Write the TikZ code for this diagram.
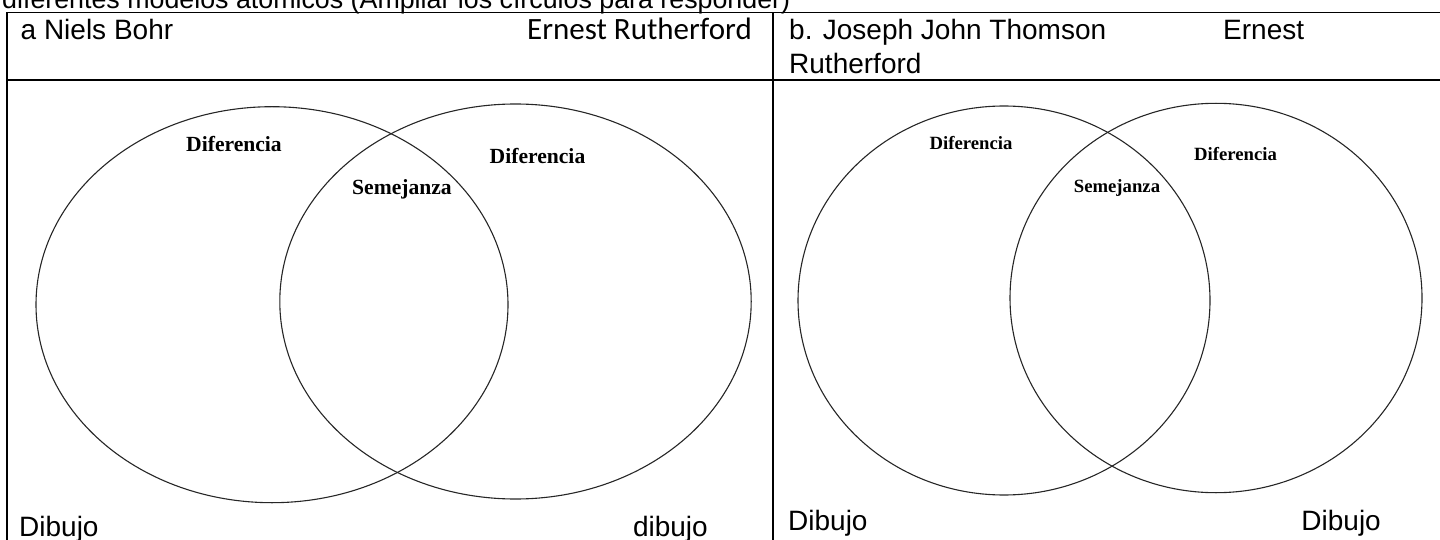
\documentclass[tikz,border=0pt]{standalone}
\usepackage{fontspec}
\setmainfont{Liberation Sans}
\newfontfamily\calibrifont{Carlito}
\newfontfamily\tagfont{Liberation Serif}
\usetikzlibrary{shapes.geometric}
\begin{document}
\begin{tikzpicture}[x=1pt,y=-1pt,
  hdr/.style={anchor=base west, inner sep=0pt, font=\fontsize{28}{32}\selectfont},
  hdrR/.style={anchor=base east, inner sep=0pt, font=\calibrifont\fontsize{31}{34}\selectfont},
  venn/.style={draw=black!85, line width=1.1pt, ellipse, inner sep=0pt},
  tagA/.style={anchor=base, inner sep=0pt, font=\tagfont\bfseries\fontsize{21.6}{24}\selectfont},
  tagB/.style={anchor=base, inner sep=0pt, font=\tagfont\bfseries\fontsize{18.7}{21}\selectfont},
  thin rule/.style={line width=1.1pt},
  thick rule/.style={line width=2.2pt}]
\useasboundingbox (0,0) rectangle (1440,540);
\clip (0,0) rectangle (1440,540);

% heading line, cut by the top edge
\node[hdr, font=\fontsize{26.8}{30}\selectfont] (intro) at (2,9)
  {diferentes modelos atómicos (Ampliar los círculos para responder)};

% table rules
\coordinate (tl) at (7,12.3);
\coordinate (tr) at (1440,12.3);
\coordinate (bl) at (7,540);
\coordinate (mt) at (773,12.3);
\coordinate (mb) at (773,540);
\coordinate (sl) at (7,80);
\coordinate (sr) at (1440,80);
\draw[line width=1.4pt] (tl) -- (tr);
\draw[thin rule] (sl) -- (sr);
\draw[thick rule] (tl) -- (bl);
\draw[thick rule] (mt) -- (mb);
\draw[thick rule] (sl) -- ++(14,0);
\draw[thick rule] (759,80) -- (787,80);
\draw[thick rule] (1427,80) -- (sr);

% header cells
\node[hdr] (hA) at (20.5,40) {a Niels Bohr};
\node[hdrR] (hA2) at (752,40) {Ernest Rutherford};
\node[hdr] (hB) at (789,40) {b. Joseph John Thomson};
\node[hdr] (hB2) at (1223,40) {Ernest};
\node[hdr] (hB3) at (789,74) {Rutherford};

% panel a: Bohr / Rutherford
\node[venn, minimum width=472pt, minimum height=396pt] (aL) at (272,304.7) {};
\node[venn, minimum width=471.4pt, minimum height=395pt] (aR) at (515.5,301.5) {};
\node[tagA] (aD1) at (234,152) {Diferencia};
\node[tagA] (aD2) at (537.5,164) {Diferencia};
\node[tagA] (aS) at (402,195) {Semejanza};
\node[hdr] (aP1) at (19,536) {Dibujo};
\node[hdr, anchor=base east] (aP2) at (708,536) {dibujo};

% panel b: Thomson / Rutherford
\node[venn, minimum width=412pt, minimum height=389pt] (bL) at (1004,300.5) {};
\node[venn, minimum width=412pt, minimum height=389.4pt] (bR) at (1216,298) {};
\node[tagB] (bD1) at (971,150) {Diferencia};
\node[tagB] (bD2) at (1235.5,161) {Diferencia};
\node[tagB] (bS) at (1117,193) {Semejanza};
\node[hdr] (bP1) at (788,530) {Dibujo};
\node[hdr, anchor=base east] (bP2) at (1381,530) {Dibujo};
\end{tikzpicture}
\end{document}
